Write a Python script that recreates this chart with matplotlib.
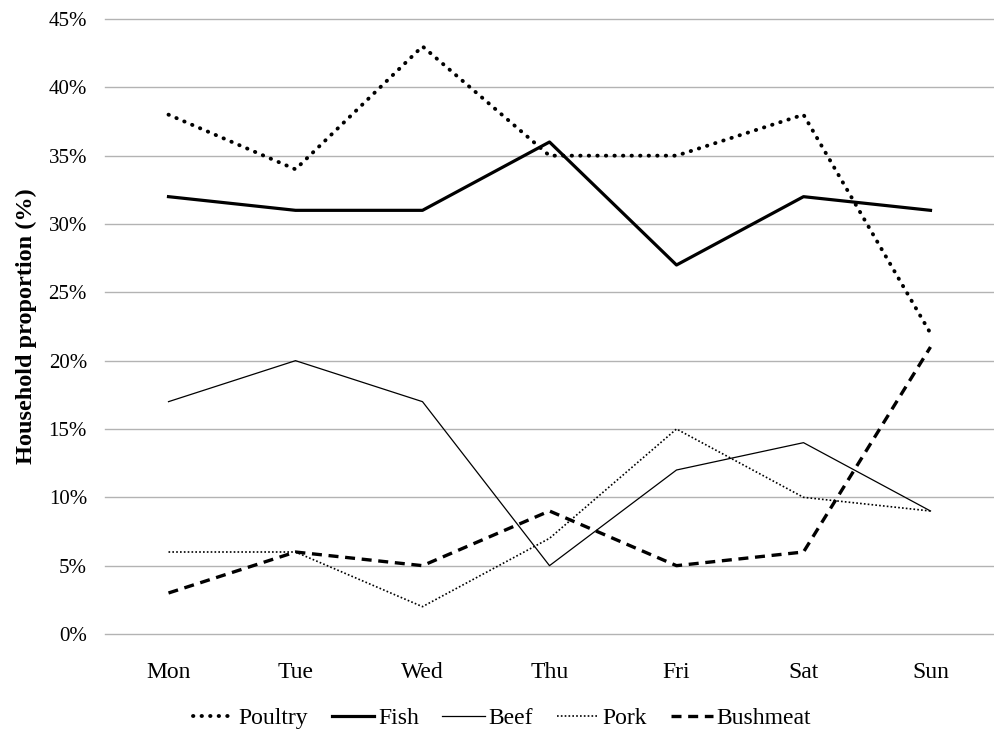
import matplotlib.pyplot as plt
from matplotlib.ticker import PercentFormatter

plt.rcParams['font.family'] = ['Liberation Serif', 'DejaVu Serif']

days = ['Mon', 'Tue', 'Wed', 'Thu', 'Fri', 'Sat', 'Sun']
poultry = [38, 34, 43, 35, 35, 38, 22]
fish = [32, 31, 31, 36, 27, 32, 31]
beef = [17, 20, 17, 5, 12, 14, 9]
pork = [6, 6, 2, 7, 15, 10, 9]
bushmeat = [3, 6, 5, 9, 5, 6, 21]

fig = plt.figure(figsize=(9.94, 7.33), dpi=100)
ax = fig.add_axes([105 / 994, 1 - 634 / 733, 1 - 105 / 994, 615 / 733])

x = range(len(days))
ax.plot(x, poultry, color='black', lw=2.8, linestyle=(0, (0.1, 2.1)),
        dash_capstyle='round', label='Poultry')
ax.plot(x, fish, color='black', lw=2.3, label='Fish')
ax.plot(x, beef, color='black', lw=0.9, label='Beef')
ax.plot(x, pork, color='black', lw=1.2, linestyle=(0, (1, 1.3)), label='Pork')
ax.plot(x, bushmeat, color='black', lw=2.4, linestyle=(0, (3, 2)), label='Bushmeat')

ax.set_xlim(-0.5, len(days) - 0.5)
ax.set_ylim(0, 45)
ax.set_yticks(range(0, 46, 5))
ax.yaxis.set_major_formatter(PercentFormatter(decimals=0))
ax.set_xticks(list(x))
ax.set_xticklabels(days)
ax.tick_params(length=0)
ax.tick_params(axis='y', labelsize=15, pad=13)
ax.tick_params(axis='x', labelsize=17, pad=20)
ax.grid(axis='y', color='#b3b3b3', lw=1)
for gl in ax.get_ygridlines():
    gl.set_clip_on(False)
ax.set_axisbelow(True)
for s in ax.spines.values():
    s.set_visible(False)

ax.set_ylabel('Household proportion (%)', fontsize=17.5, fontweight='bold', labelpad=8)

fig.legend(loc='center', bbox_to_anchor=(502 / 994, 1 - 718 / 733), ncol=5, frameon=False,
           fontsize=17, handlelength=1.8, handletextpad=0.15, columnspacing=1.0)

fig.savefig('out.png', dpi=100)
